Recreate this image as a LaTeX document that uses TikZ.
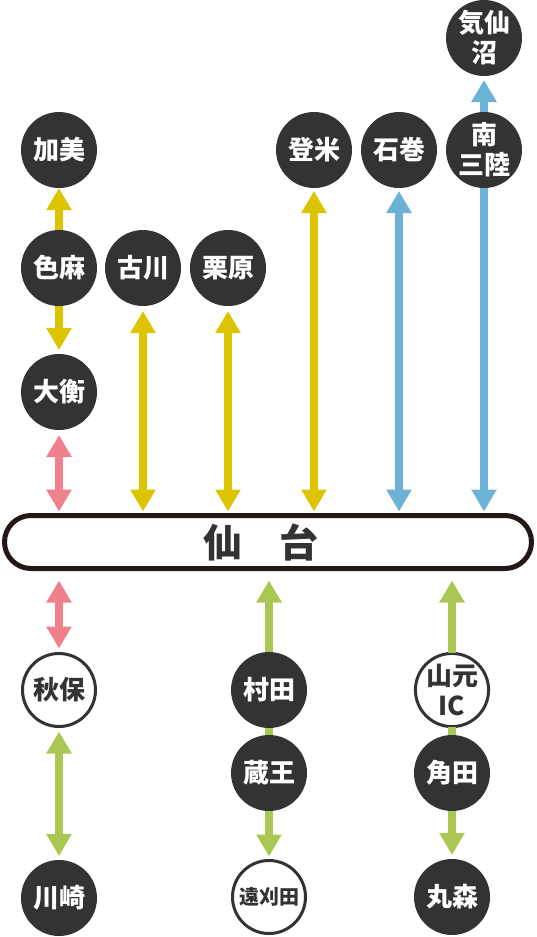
\documentclass[tikz,border=0pt]{standalone}
\usepackage{fontspec}
\newfontfamily\jp{Noto Sans CJK JP}
\usepackage{tikz}
\usetikzlibrary{arrows.meta}

\definecolor{rosa}{HTML}{EF808C}
\definecolor{amarillo}{HTML}{DDC400}
\definecolor{azul}{HTML}{6CB2D6}
\definecolor{verde}{HTML}{A9C752}
\definecolor{oscuro}{HTML}{333333}
\definecolor{borde}{HTML}{231815}

\begin{document}
\begin{tikzpicture}[
        x=1pt, y=-1pt,
        every node/.style={circle, inner sep=0pt, outer sep=0pt, minimum size=76pt, align=center,
            font=\jp\bfseries\fontsize{26}{30}\selectfont},
        estacion/.style={fill=oscuro, text=white},
        estacionb/.style={draw=oscuro, line width=3pt, fill=white, text=oscuro, minimum size=73pt},
        >={Triangle[width=24pt,length=22pt]},
        linea/.style={line width=8pt}
        ]
        \useasboundingbox (0,0) rectangle (537,937);
        % Estaciones del norte
        \node[estacion] (kami) at (59,150) {加美};
        \node[estacion] (shikama) at (59,268) {色麻};
        \node[estacion] (ohira) at (59,392) {大衡};
        \node[estacion] (furukawa) at (143,268) {古川};
        \node[estacion] (kurihara) at (228,268) {栗原};
        \node[estacion] (tome) at (314,150) {登米};
        \node[estacion] (ishinomaki) at (399,150) {石巻};
        \node[estacion] (minamisanriku) at (484,150) {南\\三陸};
        \node[estacion] (kesennuma) at (484,38) {気仙\\沼};

        % Sendai
        \node[rectangle, draw=borde, line width=5pt, fill=white, rounded corners=26.5pt,
            minimum width=527pt, minimum height=53pt, text=oscuro,
            font=\jp\bfseries\fontsize{39}{39}\selectfont] (sendai) at (268,542) {仙\hspace{38pt}台\hspace{14pt}};

        % Estaciones del sur
        \node[estacionb] (akiu) at (59,690) {秋保};
        \node[estacion] (kawasaki) at (59,898) {川崎};
        \node[estacion] (murata) at (269,690) {村田};
        \node[estacion] (zao) at (269,773) {蔵王};
        \node[estacionb, font=\jp\bfseries\fontsize{20}{24}\selectfont] (togatta) at (269,897) {遠刈田};
        \node[estacionb] (yamamoto) at (452,690) {山元\\IC};
        \node[estacion] (kakuda) at (452,773) {角田};
        \node[estacion] (marumori) at (452,897) {丸森};

        % Conexiones norte
        \draw[linea, amarillo, ->] (shikama) -- (kami);
        \draw[linea, amarillo, ->, shorten >=4pt] (shikama) -- (ohira);
        \draw[linea, rosa, <->, shorten <=5pt, shorten >=4pt] (ohira) -- (sendai.north -| ohira);
        \draw[linea, amarillo, <->, shorten <=5pt, shorten >=4pt] (furukawa) -- (sendai.north -| furukawa);
        \draw[linea, amarillo, <->, shorten <=5pt, shorten >=4pt] (kurihara) -- (sendai.north -| kurihara);
        \draw[linea, amarillo, <->, shorten <=3pt, shorten >=4pt] (tome) -- (sendai.north -| tome);
        \draw[linea, azul, <->, shorten <=3pt, shorten >=4pt] (ishinomaki) -- (sendai.north -| ishinomaki);
        \draw[linea, azul, ->, shorten >=4pt] (minamisanriku) -- (sendai.north -| minamisanriku);
        \draw[linea, azul, ->, shorten >=4pt] (minamisanriku) -- (kesennuma);

        % Conexiones sur
        \draw[linea, rosa, <->, shorten <=12pt, shorten >=5pt] (sendai.south -| akiu) -- (akiu);
        \draw[linea, verde, <->, shorten <=5pt, shorten >=4pt] (akiu) -- (kawasaki);
        \draw[linea, verde, <-, shorten <=12pt] (sendai.south -| murata) -- (murata);
        \draw[linea, verde] (murata) -- (zao);
        \draw[linea, verde, ->, shorten >=4pt] (zao) -- (togatta);
        \draw[linea, verde, <-, shorten <=12pt] (sendai.south -| yamamoto) -- (yamamoto);
        \draw[linea, verde] (yamamoto) -- (kakuda);
        \draw[linea, verde, ->, shorten >=4pt] (kakuda) -- (marumori);
\end{tikzpicture}
\end{document}
